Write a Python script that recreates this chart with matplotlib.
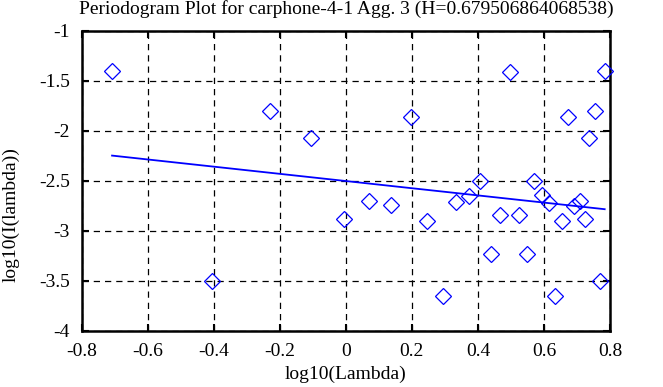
import numpy as np
import matplotlib
matplotlib.use("Agg")
import matplotlib.pyplot as plt

log_lambda = [-0.708, -0.405, -0.229, -0.104, -0.007, 0.070, 0.138, 0.196, 0.245,
              0.293, 0.333, 0.374, 0.407, 0.439, 0.468, 0.498, 0.523, 0.548, 0.570,
              0.595, 0.615, 0.635, 0.655, 0.672, 0.690, 0.708, 0.723, 0.738, 0.755,
              0.770, 0.784]
log_I = [-1.40, -3.506, -1.80, -2.07, -2.883, -2.70, -2.744, -1.865, -2.907,
         -3.649, -2.717, -2.648, -2.498, -3.23, -2.847, -1.41, -2.847, -3.23, -2.498,
         -2.638, -2.724, -3.649, -2.907, -1.865, -2.757, -2.698, -2.883, -2.07, -1.80,
         -3.506, -1.40]
H = 0.679506864068538
fit_intercept = -2.503
fit_slope = 1 - 2 * H

xticks = [-0.8, -0.6, -0.4, -0.2, 0, 0.2, 0.4, 0.6, 0.8]
xtick_labels = ["-0.8", "-0.6", "-0.4", "-0.2", "0", "0.2", "0.4", "0.6", "0.8"]
yticks = [-4, -3.5, -3, -2.5, -2, -1.5, -1]
ytick_labels = ["-4", "-3.5", "-3", "-2.5", "-2", "-1.5", "-1"]

plt.rcParams['font.family'] = ['Liberation Serif', 'DejaVu Serif']
fig = plt.figure(figsize=(6.63, 3.87), dpi=100)
ax = fig.add_axes([0.1232, 0.145, 0.7968, 0.776])

x_line = np.array([min(log_lambda), max(log_lambda)])
ax.plot(x_line, fit_intercept + fit_slope * x_line, color='#0000ff', lw=1.3, zorder=3)
ax.plot(log_lambda, log_I, linestyle='none', marker='D', ms=8.5, mfc='none',
        mec='#0000ff', mew=0.9, zorder=4, clip_on=False)

ax.set_xlim(-0.8, 0.8)
ax.set_ylim(-4, -1)
ax.set_xticks(xticks)
ax.set_xticklabels(xtick_labels)
ax.set_yticks(yticks)
ax.set_yticklabels(ytick_labels)
ax.grid(True, color='black', linestyle=(0, (5, 4)), linewidth=0.9)
ax.set_axisbelow(True)
ax.tick_params(direction='in', top=True, right=True, length=5, width=1.5,
               labelsize=14)
ax.tick_params(axis='x', pad=9)
ax.tick_params(axis='y', pad=8.5)
for s in ax.spines.values():
    s.set_linewidth(1.8)

axc = 0.1232 + 0.7968 / 2
fig.text(axc, 1 - 14 / 387, "Periodogram Plot for carphone-4-1 Agg. 3 (H=0.679506864068538)",
         fontsize=14, ha='center', va='baseline')
fig.text(axc, 1 - 379 / 387, "log10(Lambda)", fontsize=14, ha='center', va='baseline')
fig.text(11 / 663, 1 - 282 / 387, "log10(I(lambda))", fontsize=14, rotation=90,
         ha='center', va='bottom')

fig.savefig("out.png", dpi=100)
